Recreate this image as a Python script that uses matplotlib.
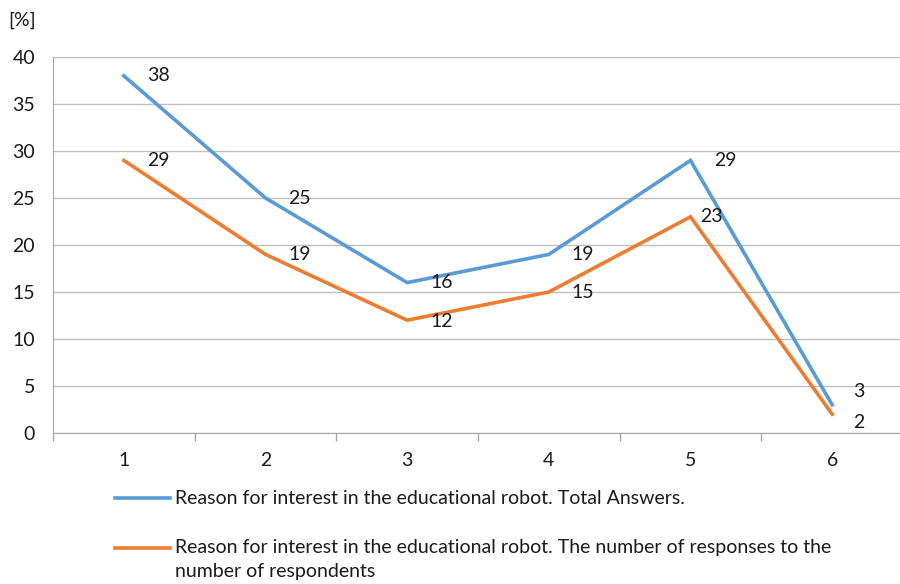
import matplotlib.pyplot as plt
from matplotlib.lines import Line2D

plt.rcParams['font.family'] = ['Lato', 'DejaVu Sans']

# Survey results, percentages per answer option
options = [1, 2, 3, 4, 5, 6]
total_answers = [38, 25, 16, 19, 29, 3]
per_respondent = [29, 19, 12, 15, 23, 2]
yticks = [0, 5, 10, 15, 20, 25, 30, 35, 40]

label_total = "Reason for interest in the educational robot. Total Answers."
label_resp = ["Reason for interest in the educational robot. The number of responses to the",
              "number of respondents"]

BLUE = '#5B9BD5'
ORANGE = '#ED7D31'
GRID = '#C0C0C0'
TXT = '#1a1a1a'
FS = 14

# pixel nudges for the data labels (right of point, some moved to avoid overlap)
nudge_total = [(23, 0), (23, 0), (23, 0), (23, 0), (24, 0), (21, 13)]
nudge_resp = [(23, 0), (23, 0), (23, -1), (23, 0), (10, 0), (21, -8)]

fig = plt.figure(figsize=(9, 5.84), dpi=100)
ax = fig.add_axes([53 / 900, 1 - 433 / 584, 850 / 900, (433 - 57) / 584])

ax.plot(options, total_answers, color=BLUE, lw=2.6, solid_joinstyle='miter', zorder=3)
ax.plot(options, per_respondent, color=ORANGE, lw=2.6, solid_joinstyle='miter', zorder=3)

for x, y, (dx, dy) in zip(options, total_answers, nudge_total):
    ax.annotate(str(y), (x, y), xytext=(dx * 0.72, dy * 0.72), textcoords='offset points',
                ha='left', va='center', fontsize=FS, color=TXT)
for x, y, (dx, dy) in zip(options, per_respondent, nudge_resp):
    ax.annotate(str(y), (x, y), xytext=(dx * 0.72, dy * 0.72), textcoords='offset points',
                ha='left', va='center', fontsize=FS, color=TXT)

ax.set_xlim(0.5, 6.5)
ax.set_ylim(0, 40)
ax.set_yticks(yticks)
ax.set_yticklabels([str(t) for t in yticks], fontsize=FS, color=TXT)
ax.set_xticks(options)
ax.set_xticklabels([str(o) for o in options], fontsize=FS, color=TXT)
ax.set_xticks([o + 0.5 for o in [0] + options], minor=True)
ax.tick_params(axis='x', which='major', length=0, pad=14)
ax.tick_params(axis='x', which='minor', length=6, color='#A6A6A6', width=1)
ax.tick_params(axis='y', length=0, pad=13)
ax.yaxis.grid(True, color=GRID, lw=1)
ax.set_axisbelow(True)
for s in ['top', 'right']:
    ax.spines[s].set_visible(False)
ax.spines['left'].set_color('#A6A6A6')
ax.spines['bottom'].set_color('#A6A6A6')

fig.text(8 / 900, 1 - 20 / 584, '[%]', fontsize=FS, color=TXT, ha='left', va='center')

# legend drawn below the plot
fig.add_artist(Line2D([115 / 900, 170 / 900], [1 - 498 / 584] * 2, color=BLUE, lw=2.6))
fig.text(175 / 900, 1 - 498 / 584, label_total, fontsize=FS, color=TXT, ha='left', va='center')
fig.add_artist(Line2D([115 / 900, 170 / 900], [1 - 548 / 584] * 2, color=ORANGE, lw=2.6))
for i, line in enumerate(label_resp):
    fig.text(175 / 900, 1 - (548 + 23 * i) / 584, line, fontsize=FS, color=TXT,
             ha='left', va='center')

fig.savefig('out.png', dpi=100)
